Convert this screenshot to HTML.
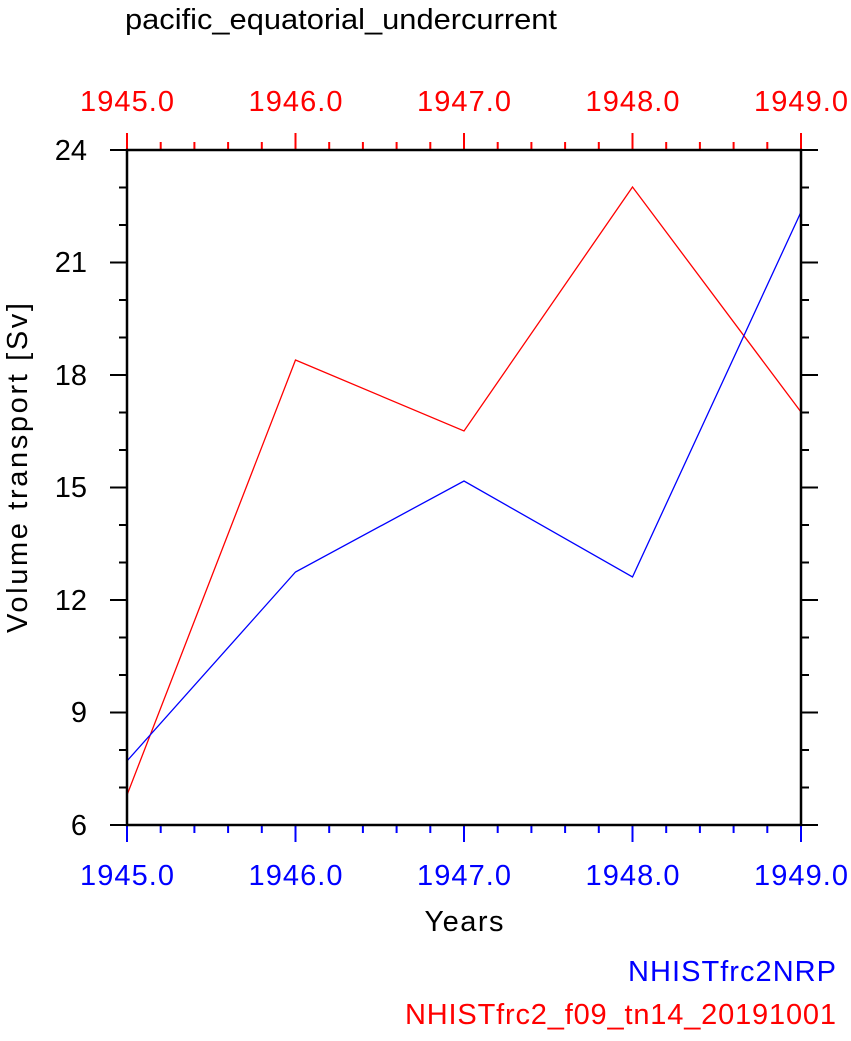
<!DOCTYPE html>
<html><head><meta charset="utf-8"><style>
body{margin:0;background:#fff;width:851px;height:1036px;overflow:hidden}
text{font-family:"Liberation Sans",sans-serif}
</style></head><body>
<svg width="851" height="1036" xmlns="http://www.w3.org/2000/svg">
<text x="125" y="29" font-size="29" fill="#000" textLength="432" lengthAdjust="spacingAndGlyphs">pacific_equatorial_undercurrent</text>
<g stroke="#00f" stroke-width="2">
<path d="M127 825v17M295.5 825v17M464 825v17M632.5 825v17M801 825v17"/>
<path d="M160.7 825v8M194.4 825v8M228.1 825v8M261.8 825v8M329.2 825v8M362.9 825v8M396.6 825v8M430.3 825v8M497.7 825v8M531.4 825v8M565.1 825v8M598.8 825v8M666.2 825v8M699.9 825v8M733.6 825v8M767.3 825v8"/>
</g>
<g stroke="#f00" stroke-width="2">
<path d="M127 150v-17M295.5 150v-17M464 150v-17M632.5 150v-17M801 150v-17"/>
<path d="M160.7 150v-8M194.4 150v-8M228.1 150v-8M261.8 150v-8M329.2 150v-8M362.9 150v-8M396.6 150v-8M430.3 150v-8M497.7 150v-8M531.4 150v-8M565.1 150v-8M598.8 150v-8M666.2 150v-8M699.9 150v-8M733.6 150v-8M767.3 150v-8"/>
</g>
<g stroke="#000" stroke-width="2">
<path d="M127 150h-17M127 262.5h-17M127 375h-17M127 487.5h-17M127 600h-17M127 712.5h-17M127 825h-17M801 150h17M801 262.5h17M801 375h17M801 487.5h17M801 600h17M801 712.5h17M801 825h17"/>
<path d="M127 187.5h-8M127 225h-8M127 300h-8M127 337.5h-8M127 412.5h-8M127 450h-8M127 525h-8M127 562.5h-8M127 637.5h-8M127 675h-8M127 750h-8M127 787.5h-8
M801 187.5h8M801 225h8M801 300h8M801 337.5h8M801 412.5h8M801 450h8M801 525h8M801 562.5h8M801 637.5h8M801 675h8M801 750h8M801 787.5h8"/>
</g>
<polyline points="127,795 295.5,360 464,431 632.5,187 801,412" fill="none" stroke="#f00" stroke-width="1.3"/>
<polyline points="127,761 295.5,572 464,481 632.5,577 801,212" fill="none" stroke="#00f" stroke-width="1.3"/>
<rect x="127" y="150" width="674" height="675" fill="none" stroke="#000" stroke-width="2.5"/>
<g font-size="29" fill="#000" text-anchor="end">
<text x="87" y="160">24</text><text x="87" y="272">21</text><text x="87" y="385">18</text><text x="87" y="497">15</text><text x="87" y="610">12</text><text x="87" y="722">9</text><text x="87" y="835">6</text>
</g>
<g font-size="29" fill="#00f" text-anchor="middle" lengthAdjust="spacingAndGlyphs">
<text x="127" y="885" textLength="94">1945.0</text><text x="295.5" y="885" textLength="94">1946.0</text><text x="464" y="885" textLength="94">1947.0</text><text x="632.5" y="885" textLength="94">1948.0</text><text x="801" y="885" textLength="94">1949.0</text>
</g>
<g font-size="29" fill="#f00" text-anchor="middle">
<text x="127" y="111" textLength="94">1945.0</text><text x="295.5" y="111" textLength="94">1946.0</text><text x="464" y="111" textLength="94">1947.0</text><text x="632.5" y="111" textLength="94">1948.0</text><text x="801" y="111" textLength="94">1949.0</text>
</g>
<text x="464" y="931" font-size="29" text-anchor="middle" textLength="79">Years</text>
<text transform="translate(27,468) rotate(-90)" font-size="29" text-anchor="middle" textLength="330">Volume transport [Sv]</text>
<text x="836" y="981" font-size="29" fill="#00f" text-anchor="end" textLength="208">NHISTfrc2NRP</text>
<text x="836" y="1024" font-size="29" fill="#f00" text-anchor="end" textLength="431">NHISTfrc2_f09_tn14_20191001</text>
</svg>
</body></html>
